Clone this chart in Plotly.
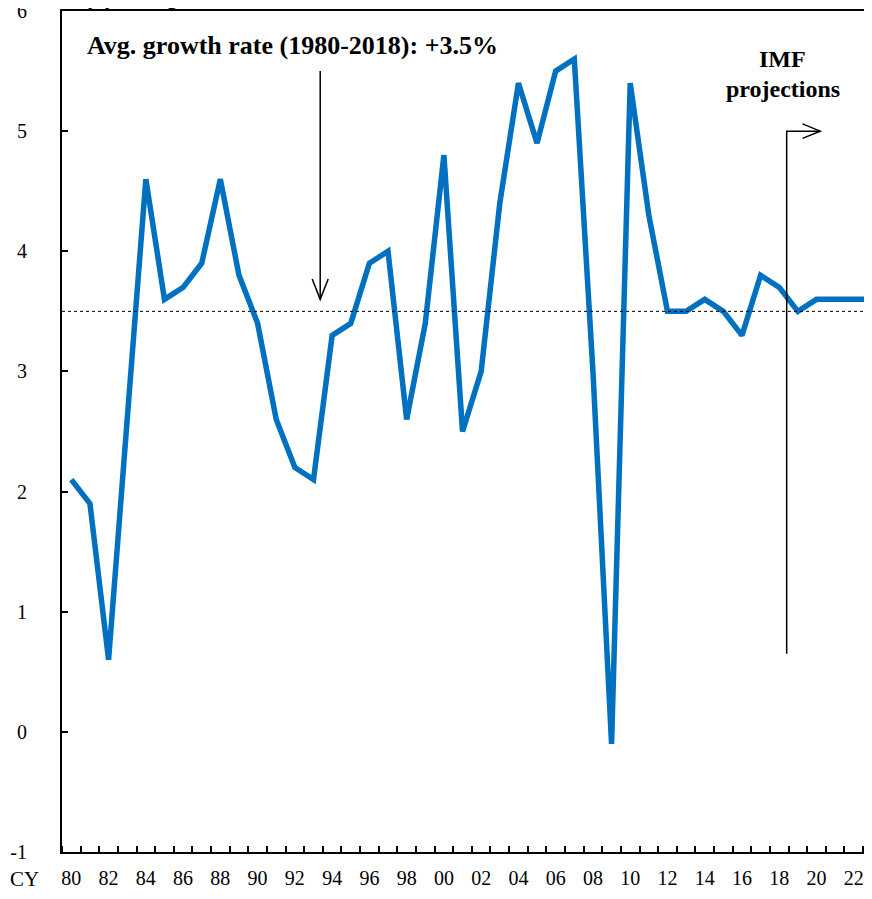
import plotly.graph_objects as go

# Crescimento anual (% a/a), 1980-2023
years = list(range(1980, 2024))
growth = [2.1, 1.9, 0.6, 2.6, 4.6, 3.6, 3.7, 3.9, 4.6, 3.8,
          3.4, 2.6, 2.2, 2.1, 3.3, 3.4, 3.9, 4.0, 2.6, 3.4,
          4.8, 2.5, 3.0, 4.4, 5.4, 4.9, 5.5, 5.6, 3.0, -0.1,
          5.4, 4.3, 3.5, 3.5, 3.6, 3.5, 3.3, 3.8, 3.7, 3.5,
          3.6, 3.6, 3.6, 3.6]
tick_years = list(range(1980, 2024, 2))
tick_text = [f"{y % 100:02d}" for y in tick_years]
y_ticks = list(range(-1, 7))
y_text = [str(v) for v in y_ticks]
avg_rate = 3.5

FONT = "Liberation Serif"

fig = go.Figure()
fig.add_trace(go.Scatter(
    x=years, y=growth, mode="lines",
    line=dict(color="#0070C0", width=5.5),
    showlegend=False, hoverinfo="skip",
))

# linha da média
fig.add_shape(type="line", xref="paper", x0=0, x1=1, yref="y", y0=avg_rate, y1=avg_rate,
              line=dict(color="black", width=1, dash="dot"))

# seta da média (para baixo)
fig.add_shape(type="line", x0=1993.36, x1=1993.36, y0=5.5, y1=3.60,
              line=dict(color="black", width=1.5))
fig.add_shape(type="path",
              path="M 1992.93 3.77 L 1993.36 3.60 L 1993.79 3.77",
              line=dict(color="black", width=1.5))

# seta das projeções
fig.add_shape(type="path",
              path="M 2018.4 0.65 L 2018.4 5.0 L 2020.2 5.0",
              line=dict(color="black", width=1.5))
fig.add_shape(type="path",
              path="M 2019.25 5.06 L 2020.2 5.0 L 2019.25 4.94",
              line=dict(color="black", width=1.5))

fig.add_annotation(x=1980.75, y=5.71, xanchor="left", yanchor="middle",
                   text="<b>Avg. growth rate (1980-2018): +3.5%</b>",
                   showarrow=False, font=dict(family=FONT, size=26, color="black"))
fig.add_annotation(x=2018.2, y=5.60, xanchor="center", yanchor="middle",
                   text="<b>IMF</b>",
                   showarrow=False, font=dict(family=FONT, size=24, color="black"))
fig.add_annotation(x=2018.2, y=5.35, xanchor="center", yanchor="middle",
                   text="<b>projections</b>",
                   showarrow=False, font=dict(family=FONT, size=24, color="black"))
fig.add_annotation(xref="paper", yref="paper", x=0.03, y=1.0, yshift=0,
                   xanchor="left", yanchor="bottom",
                   text="<b>y/y change</b>", showarrow=False,
                   font=dict(family=FONT, size=22, color="black"))
fig.add_annotation(xref="paper", yref="paper", x=-0.047, y=0, yshift=-27,
                   xanchor="center", yanchor="middle",
                   text="CY", showarrow=False,
                   font=dict(family=FONT, size=21, color="black"))

fig.update_xaxes(
    range=[1979.5, 2022.55], automargin=False,
    tickmode="array", tickvals=tick_years, ticktext=tick_text,
    ticks="", showgrid=False, zeroline=False,
    showline=True, linecolor="black", linewidth=2, mirror=True,
    tickfont=dict(family=FONT, size=20, color="black"),
    ticklabelstandoff=7, ticklabeloverflow="allow",
    minor=dict(ticks="inside", tick0=1979.5, dtick=1, ticklen=6,
               tickcolor="black", tickwidth=1.5, showgrid=False),
)
fig.update_yaxes(
    range=[-1, 6], automargin=False,
    tickmode="array", tickvals=y_ticks, ticktext=y_text,
    ticks="inside", ticklen=6, tickcolor="black", tickwidth=1.5,
    showgrid=False, zeroline=False,
    showline=True, linecolor="black", linewidth=2,
    tickfont=dict(family=FONT, size=20, color="black"),
    ticklabelstandoff=29, ticklabeloverflow="allow",
)
fig.update_layout(
    width=856, height=883,
    margin=dict(l=54, r=0, t=3, b=39),
    plot_bgcolor="white", paper_bgcolor="white",
)

fig.write_html("out.html")
